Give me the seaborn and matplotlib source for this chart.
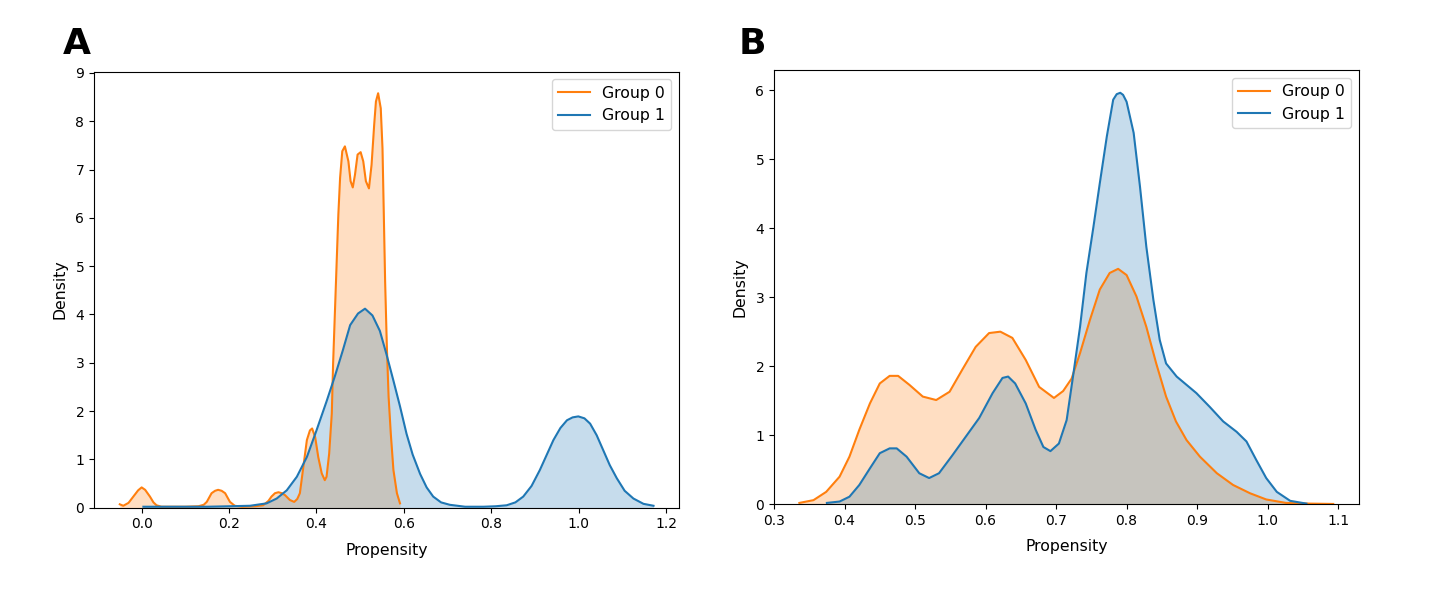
import matplotlib
matplotlib.use("Agg")
import matplotlib.pyplot as plt
import seaborn as sns

# ---------------- data (propensity vs density) ----------------
a_x_group0 = [-0.050, -0.042, -0.030, -0.019, -0.008, 0.000, 0.008, 0.019, 0.027, 0.034,
              0.045, 0.070, 0.100, 0.130, 0.142, 0.149, 0.160, 0.168, 0.175, 0.183,
              0.191, 0.202, 0.213, 0.230, 0.260, 0.278, 0.290, 0.297, 0.305, 0.313,
              0.321, 0.328, 0.339, 0.349, 0.356, 0.362, 0.370, 0.378, 0.385, 0.390,
              0.397, 0.404, 0.412, 0.419, 0.423, 0.429, 0.435, 0.438, 0.442, 0.446,
              0.450, 0.454, 0.459, 0.465, 0.473, 0.478, 0.483, 0.488, 0.494, 0.501,
              0.507, 0.513, 0.520, 0.526, 0.532, 0.536, 0.541, 0.547, 0.551, 0.554,
              0.557, 0.561, 0.565, 0.570, 0.576, 0.584, 0.591]
a_y_group0 = [0.07, 0.04, 0.10, 0.23, 0.36, 0.42, 0.37, 0.23, 0.11, 0.05,
              0.02, 0.02, 0.02, 0.03, 0.06, 0.12, 0.30, 0.35, 0.37, 0.35,
              0.30, 0.12, 0.04, 0.02, 0.03, 0.05, 0.14, 0.23, 0.30, 0.32,
              0.30, 0.26, 0.16, 0.12, 0.18, 0.30, 0.85, 1.40, 1.60, 1.64,
              1.46, 1.05, 0.71, 0.57, 0.64, 1.12, 1.95, 2.98, 4.01, 5.04,
              6.07, 6.83, 7.38, 7.48, 7.17, 6.76, 6.63, 6.89, 7.31, 7.36,
              7.17, 6.76, 6.61, 7.10, 7.93, 8.41, 8.58, 8.27, 7.44, 6.07,
              4.69, 3.32, 2.29, 1.53, 0.78, 0.30, 0.09]

a_x_group1 = [0.004, 0.050, 0.100, 0.150, 0.200, 0.248, 0.286, 0.309, 0.332, 0.355,
              0.378, 0.400, 0.423, 0.442, 0.460, 0.477, 0.495, 0.511, 0.528, 0.545,
              0.560, 0.576, 0.591, 0.606, 0.620, 0.637, 0.652, 0.667, 0.685, 0.705,
              0.740, 0.782, 0.810, 0.835, 0.855, 0.873, 0.892, 0.911, 0.927, 0.942,
              0.958, 0.973, 0.986, 0.999, 1.013, 1.026, 1.041, 1.056, 1.071, 1.087,
              1.105, 1.125, 1.148, 1.171]
a_y_group1 = [0.02, 0.02, 0.02, 0.02, 0.03, 0.04, 0.09, 0.19, 0.36, 0.64,
              1.05, 1.60, 2.20, 2.72, 3.25, 3.78, 4.02, 4.12, 3.98, 3.66,
              3.18, 2.63, 2.10, 1.53, 1.10, 0.70, 0.42, 0.23, 0.11, 0.06,
              0.02, 0.02, 0.03, 0.05, 0.11, 0.23, 0.45, 0.78, 1.10, 1.40,
              1.65, 1.81, 1.87, 1.89, 1.85, 1.74, 1.50, 1.19, 0.88, 0.61,
              0.35, 0.19, 0.08, 0.04]

b_x_group0 = [0.336, 0.356, 0.374, 0.393, 0.407, 0.421, 0.436, 0.450, 0.464, 0.476,
              0.492, 0.511, 0.530, 0.549, 0.567, 0.586, 0.605, 0.621, 0.638, 0.657,
              0.676, 0.697, 0.710, 0.722, 0.734, 0.748, 0.762, 0.776, 0.788, 0.800,
              0.814, 0.828, 0.842, 0.856, 0.870, 0.885, 0.904, 0.928, 0.951, 0.975,
              0.998, 1.026, 1.060, 1.093]
b_y_group0 = [0.02, 0.06, 0.18, 0.40, 0.69, 1.08, 1.46, 1.75, 1.86, 1.86,
              1.73, 1.56, 1.51, 1.63, 1.95, 2.28, 2.48, 2.50, 2.41, 2.09,
              1.70, 1.54, 1.64, 1.82, 2.19, 2.67, 3.11, 3.35, 3.41, 3.32,
              3.01, 2.57, 2.04, 1.56, 1.20, 0.93, 0.69, 0.45, 0.28, 0.16,
              0.07, 0.02, 0.01, 0.005]

b_x_group1 = [0.375, 0.393, 0.407, 0.421, 0.436, 0.450, 0.464, 0.474, 0.488, 0.506,
              0.520, 0.534, 0.553, 0.572, 0.591, 0.610, 0.624, 0.632, 0.642, 0.657,
              0.671, 0.682, 0.692, 0.704, 0.715, 0.724, 0.734, 0.743, 0.753, 0.762,
              0.772, 0.781, 0.786, 0.791, 0.795, 0.800, 0.810, 0.819, 0.828, 0.838,
              0.847, 0.856, 0.871, 0.885, 0.899, 0.918, 0.937, 0.956, 0.970, 0.984,
              0.998, 1.013, 1.032, 1.055]
b_y_group1 = [0.02, 0.04, 0.11, 0.28, 0.52, 0.74, 0.81, 0.81, 0.69, 0.45,
              0.38, 0.45, 0.71, 0.98, 1.25, 1.61, 1.83, 1.85, 1.75, 1.46,
              1.08, 0.83, 0.77, 0.88, 1.22, 1.85, 2.57, 3.35, 4.02, 4.65,
              5.33, 5.86, 5.94, 5.96, 5.93, 5.83, 5.38, 4.60, 3.73, 2.96,
              2.38, 2.04, 1.85, 1.73, 1.61, 1.41, 1.20, 1.05, 0.91, 0.64,
              0.38, 0.18, 0.05, 0.01]

group_names = ["Group 0", "Group 1"]
colors = ["tab:orange", "tab:blue"]

# ---------------- figure ----------------
fig = plt.figure(figsize=(14.36, 5.97), dpi=100)
ax_a = fig.add_axes([0.06546, 0.14958, 0.40759, 0.73065])
ax_b = fig.add_axes([0.53900, 0.15528, 0.40759, 0.72747])


def draw_panel(ax, curves, xlim, ylim, yticks):
    # fills first, lines on top
    for (xs, ys), col in zip(curves, colors):
        ax.fill_between(xs, ys, color=col, alpha=0.25, linewidth=0)
    for (xs, ys), col, name in zip(curves, colors, group_names):
        sns.lineplot(x=xs, y=ys, ax=ax, color=col, linewidth=1.5, label=name)
    ax.set_xlim(*xlim)
    ax.set_ylim(*ylim)
    ax.set_yticks(yticks)
    ax.set_xlabel("Propensity", fontsize=11.3, labelpad=8)
    ax.set_ylabel("Density", fontsize=11.3, labelpad=6)
    ax.legend(loc="upper right", fontsize=11.3)


draw_panel(ax_a, [(a_x_group0, a_y_group0), (a_x_group1, a_y_group1)],
           (-0.109, 1.230), (0, 9.03), range(0, 10))
draw_panel(ax_b, [(b_x_group0, b_y_group0), (b_x_group1, b_y_group1)],
           (0.300, 1.130), (0, 6.29), range(0, 7))

fig.text(0.0441, 0.909, "A", fontsize=26, fontweight="bold", va="baseline")
fig.text(0.5145, 0.909, "B", fontsize=26, fontweight="bold", va="baseline")

fig.savefig("out.png", dpi=100)
